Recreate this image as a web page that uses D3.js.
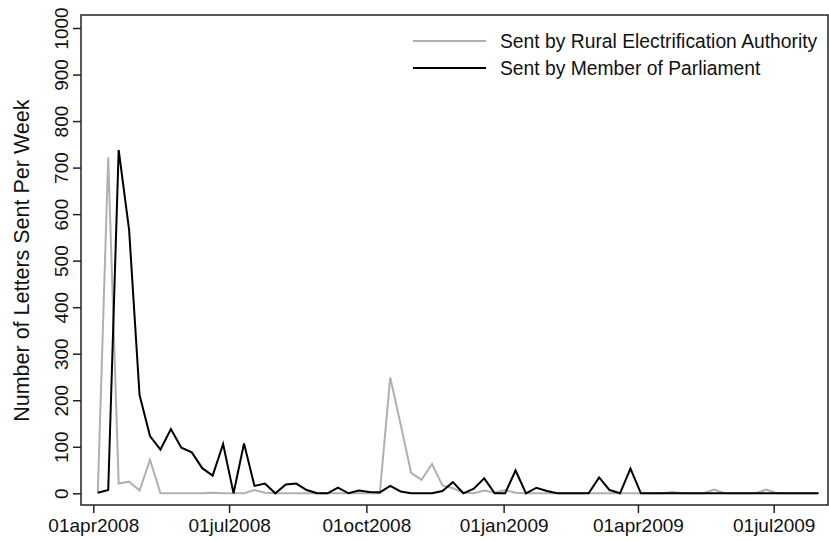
<!DOCTYPE html>
<html><head><meta charset="utf-8">
<script src="https://cdn.jsdelivr.net/npm/d3@7"></script>
<style>
body{margin:0;background:#fff}
text{font-family:"Liberation Sans",Arial,Helvetica,sans-serif;fill:#111}
</style>
</head><body>
<svg id="c" width="829" height="541"></svg>
<script>
// ---- data ----
const firstWeek = "2008-04-04";   // weekly observations start here
const reaLetters = [0,722,21,25,6,72,0,0,0,0, 0,1,0,0,0,7,1,0,0,0, 0,0,0,0,0,0,0,0,249,148, 44,29,63,17,11,1,0,6,1,7, 1,0,0,0,0,0,0,0,0,0, 0,0,0,0,0,3,0,0,0,8, 0,0,0,0,8,0,0,0,0,0];
const mpLetters  = [1,7,738,566,211,123,94,138,98,88, 54,38,106,0,107,16,21,0,19,21, 7,0,0,12,0,6,3,2,16,4, 0,0,0,5,24,0,10,32,0,0, 49,0,12,5,0,0,0,0,34,7, 0,53,0,0,0,0,0,0,0,0, 0,0,0,0,0,0,0,0,0,0];
const xTickDates = ["2008-04-01","2008-07-01","2008-10-01","2009-01-01","2009-04-01","2009-07-01"];
const yTickValues = [0,100,200,300,400,500,600,700,800,900,1000];
const seriesNames = ["Sent by Rural Electrification Authority","Sent by Member of Parliament"];
const yTitle = "Number of Letters Sent Per Week";

// ---- chart ----
const svg = d3.select("#c");
const parse = d3.utcParse("%Y-%m-%d");
const dates = reaLetters.map((_, i) => d3.utcDay.offset(parse(firstWeek), 7 * i));
const x = d3.scaleUtc().domain([parse("2008-04-01"), parse("2009-07-01")]).range([93.3, 773.7]);
const y = d3.scaleLinear().domain([0, 1000]).range([493.3, 28]);
const box = {l: 81, t: 15, r: 828, b: 505};
const fmt = d => d3.utcFormat("%d%b%Y")(d).toLowerCase();

// frame
svg.append("rect").attr("x", box.l).attr("y", box.t)
  .attr("width", box.r - box.l).attr("height", box.b - box.t)
  .attr("fill", "none").attr("stroke", "#222").attr("stroke-width", 1.5);

// x axis
const xa = svg.append("g").attr("transform", `translate(0,${box.b})`)
  .call(d3.axisBottom(x).tickValues(xTickDates.map(parse)).tickFormat(fmt).tickSize(8).tickSizeOuter(0));
xa.select(".domain").remove();
xa.selectAll(".tick line").attr("stroke", "#222").attr("stroke-width", 1.5);
xa.selectAll(".tick text").attr("y", 26.5).attr("dy", 0).style("font-size", "19px").attr("fill", "#111");

// y axis
const ya = svg.append("g").attr("transform", `translate(${box.l},0)`)
  .call(d3.axisLeft(y).tickValues(yTickValues).tickFormat(d3.format("d")).tickSize(8).tickSizeOuter(0));
ya.select(".domain").remove();
ya.selectAll(".tick line").attr("stroke", "#222").attr("stroke-width", 1.5);
ya.selectAll(".tick text").attr("x", null).attr("dy", 0)
  .attr("transform", "translate(-13,0) rotate(-90)")
  .attr("text-anchor", "middle").style("font-size", "19px").attr("fill", "#111");

// y title
svg.append("text").attr("transform", `translate(29,${(y(0) + y(1000)) / 2}) rotate(-90)`)
  .attr("text-anchor", "middle").style("font-size", "21.5px").text(yTitle);

// lines
const line = d3.line().x((d, i) => x(dates[i])).y(d => y(d));
svg.append("path").datum(reaLetters).attr("d", line)
  .attr("fill", "none").attr("stroke", "#b0b0b0").attr("stroke-width", 2).attr("stroke-linejoin", "miter");
svg.append("path").datum(mpLetters).attr("d", line)
  .attr("fill", "none").attr("stroke", "#000").attr("stroke-width", 2).attr("stroke-linejoin", "miter");

// legend
const colors = ["#b0b0b0", "#000"];
seriesNames.forEach((name, i) => {
  const ly = 41 + i * 27;
  svg.append("line").attr("x1", 413).attr("x2", 486).attr("y1", ly).attr("y2", ly)
    .attr("stroke", colors[i]).attr("stroke-width", 2);
  svg.append("text").attr("x", 500).attr("y", ly + 7.3).style("font-size", "19.3px").text(name);
});
</script>
</body></html>
